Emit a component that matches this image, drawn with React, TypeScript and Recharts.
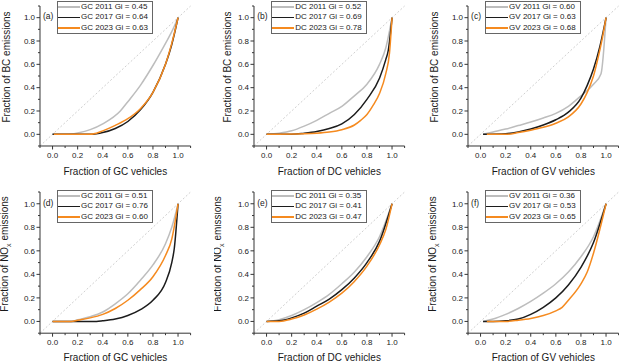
import React from "react";
import { LineChart, Line, XAxis, YAxis, ReferenceLine } from "recharts";

// tick positions shared by every panel (minor every 0.1, labels every 0.2)
const tickValues = [-0.1, 0, 0.1, 0.2, 0.3, 0.4, 0.5, 0.6, 0.7, 0.8, 0.9, 1, 1.1];
const years = ["2011", "2017", "2023"];

// [fraction of vehicles, fraction of emissions]
const gcBc2011 = [[0, 0], [0.1, 0], [0.15, 0.003], [0.2, 0.012], [0.3, 0.04], [0.4, 0.09], [0.54, 0.2], [0.6, 0.28], [0.7, 0.42], [0.8, 0.59], [0.9, 0.78], [0.95, 0.88], [1, 1]];
const gcBc2017 = [[0, 0], [0.3, 0], [0.35, 0.005], [0.4, 0.015], [0.5, 0.05], [0.6, 0.11], [0.7, 0.21], [0.8, 0.36], [0.9, 0.6], [0.95, 0.77], [1, 1]];
const gcBc2023 = [[0.01, 0], [0.28, 0], [0.35, 0.01], [0.4, 0.03], [0.5, 0.077], [0.6, 0.134], [0.7, 0.22], [0.8, 0.36], [0.9, 0.6], [0.95, 0.78], [1, 1]];

const dcBc2011 = [[0, 0], [0.1, 0.01], [0.2, 0.03], [0.3, 0.07], [0.4, 0.12], [0.5, 0.18], [0.6, 0.24], [0.7, 0.33], [0.8, 0.43], [0.9, 0.6], [0.95, 0.74], [1, 1]];
const dcBc2017 = [[0, 0], [0.2, 0], [0.3, 0.01], [0.4, 0.025], [0.5, 0.05], [0.6, 0.09], [0.7, 0.17], [0.8, 0.3], [0.9, 0.48], [0.95, 0.64], [0.97, 0.72], [1, 1]];
const dcBc2023 = [[0, 0], [0.3, 0.005], [0.4, 0.01], [0.5, 0.02], [0.6, 0.04], [0.7, 0.08], [0.75, 0.12], [0.8, 0.17], [0.85, 0.25], [0.9, 0.35], [0.95, 0.52], [0.98, 0.7], [1, 1]];

const gvBc2011 = [[0.02, 0], [0.1, 0.02], [0.2, 0.045], [0.3, 0.075], [0.4, 0.105], [0.5, 0.14], [0.6, 0.18], [0.7, 0.24], [0.8, 0.33], [0.9, 0.43], [0.96, 0.52], [1, 1]];
const gvBc2017 = [[0.02, 0], [0.2, 0.005], [0.3, 0.02], [0.4, 0.045], [0.5, 0.08], [0.6, 0.125], [0.7, 0.19], [0.8, 0.31], [0.85, 0.42], [0.9, 0.56], [0.95, 0.75], [1, 1]];
const gvBc2023 = [[0.05, 0], [0.2, 0], [0.3, 0.015], [0.4, 0.035], [0.5, 0.06], [0.6, 0.095], [0.7, 0.15], [0.8, 0.26], [0.85, 0.36], [0.9, 0.5], [0.95, 0.72], [0.97, 0.82], [1, 1]];

const gcNox2011 = [[0, 0], [0.15, 0], [0.2, 0.014], [0.3, 0.04], [0.4, 0.08], [0.5, 0.15], [0.6, 0.235], [0.7, 0.35], [0.8, 0.48], [0.9, 0.66], [0.95, 0.8], [1, 1]];
const gcNox2017 = [[0, 0], [0.35, 0], [0.4, 0.005], [0.5, 0.02], [0.6, 0.05], [0.7, 0.1], [0.8, 0.18], [0.9, 0.33], [0.95, 0.5], [0.97, 0.62], [1, 1]];
const gcNox2023 = [[0, 0], [0.15, 0], [0.2, 0.01], [0.3, 0.03], [0.4, 0.06], [0.5, 0.11], [0.6, 0.18], [0.7, 0.27], [0.8, 0.38], [0.9, 0.56], [0.95, 0.7], [1, 1]];

const dcNox2011 = [[0, 0], [0.1, 0.015], [0.2, 0.05], [0.3, 0.1], [0.4, 0.16], [0.5, 0.23], [0.6, 0.32], [0.7, 0.42], [0.8, 0.55], [0.9, 0.72], [1, 1]];
const dcNox2017 = [[0, 0], [0.1, 0.005], [0.2, 0.03], [0.3, 0.07], [0.4, 0.13], [0.5, 0.19], [0.6, 0.27], [0.7, 0.37], [0.8, 0.5], [0.9, 0.68], [1, 1]];
const dcNox2023 = [[0, 0], [0.1, 0], [0.2, 0.02], [0.3, 0.055], [0.4, 0.105], [0.5, 0.165], [0.6, 0.24], [0.7, 0.34], [0.8, 0.47], [0.9, 0.65], [0.95, 0.78], [1, 1]];

const gvNox2011 = [[0.02, 0], [0.1, 0.02], [0.2, 0.06], [0.3, 0.11], [0.4, 0.17], [0.5, 0.24], [0.6, 0.32], [0.7, 0.42], [0.8, 0.55], [0.9, 0.72], [1, 1]];
const gvNox2017 = [[0.02, 0], [0.1, 0], [0.2, 0.005], [0.3, 0.02], [0.4, 0.06], [0.5, 0.12], [0.6, 0.2], [0.7, 0.31], [0.8, 0.46], [0.9, 0.67], [1, 1]];
const gvNox2023 = [[0.05, 0], [0.2, 0], [0.3, 0.01], [0.4, 0.025], [0.5, 0.05], [0.6, 0.09], [0.65, 0.12], [0.7, 0.18], [0.8, 0.32], [0.85, 0.42], [0.9, 0.58], [0.95, 0.78], [1, 1]];

// Gini index per panel, same order as years
const giniGcBc = [0.45, 0.64, 0.63];
const giniDcBc = [0.52, 0.69, 0.78];
const giniGvBc = [0.6, 0.63, 0.68];
const giniGcNox = [0.51, 0.76, 0.6];
const giniDcNox = [0.35, 0.41, 0.47];
const giniGvNox = [0.36, 0.53, 0.65];

const COLORS = ["#bdbdbd", "#1c1c1c", "#f58a1f"];
const AXIS = "#333";
const TEXT = "#1a1a1a";
const FONT = '"Liberation Sans", Arial, sans-serif';

const colLeft = [40, 254.2, 468.1];
const rowTop = [5.6, 191.5];
const rowH = [140, 141.2];
const PLOT_W = 150.6;
const YW = 40;

const toPts = (arr: number[][]) => arr.map(([x, y]) => ({ x, y }));

const panels = [
  { tag: "(a)", veh: "GC", pol: "BC", gini: giniGcBc, series: [gcBc2011, gcBc2017, gcBc2023], row: 0, col: 0, titleDx: -33 },
  { tag: "(b)", veh: "DC", pol: "BC", gini: giniDcBc, series: [dcBc2011, dcBc2017, dcBc2023], row: 0, col: 1, titleDx: -26 },
  { tag: "(c)", veh: "GV", pol: "BC", gini: giniGvBc, series: [gvBc2011, gvBc2017, gvBc2023], row: 0, col: 2, titleDx: -33 },
  { tag: "(d)", veh: "GC", pol: "NOx", gini: giniGcNox, series: [gcNox2011, gcNox2017, gcNox2023], row: 1, col: 0, titleDx: -35 },
  { tag: "(e)", veh: "DC", pol: "NOx", gini: giniDcNox, series: [dcNox2011, dcNox2017, dcNox2023], row: 1, col: 1, titleDx: -36 },
  { tag: "(f)", veh: "GV", pol: "NOx", gini: giniGvNox, series: [gvNox2011, gvNox2017, gvNox2023], row: 1, col: 2, titleDx: -35 },
];

const isMajor = (v: number) => {
  const k = Math.round(v * 10);
  return k >= 0 && k <= 10 && k % 2 === 0;
};

function XTick(props: any) {
  const { x, y, payload } = props;
  const major = isMajor(payload.value);
  return (
    <g>
      <line x1={x} x2={x} y1={y} y2={y + (major ? 3.5 : 2)} stroke={AXIS} />
      {major && (
        <text x={x} y={y + 9} dy="0.35em" textAnchor="middle" fontSize={8} fill={TEXT} fontFamily={FONT}>
          {payload.value.toFixed(1)}
        </text>
      )}
    </g>
  );
}

function YTick(props: any) {
  const { x, y, payload } = props;
  const major = isMajor(payload.value);
  return (
    <g>
      <line x1={x - (major ? 3.5 : 2)} x2={x} y1={y} y2={y} stroke={AXIS} />
      {major && (
        <text x={x - 5} y={y} dy="0.35em" textAnchor="end" fontSize={8} fill={TEXT} fontFamily={FONT}>
          {payload.value.toFixed(1)}
        </text>
      )}
    </g>
  );
}

function Panel({ p }: { p: (typeof panels)[number] }) {
  const plotLeft = colLeft[p.col];
  const plotTop = rowTop[p.row];
  const plotH = rowH[p.row];
  const w = YW + PLOT_W + 4;
  const h = 6 + plotH + 34;
  const left = plotLeft - YW;
  const top = plotTop - 6;
  const legendTop = p.row === 0 ? 0.5 - top : 189.5 - top;

  const xTitle = (props: any) => {
    const vb = props.viewBox;
    return (
      <text x={vb.x + vb.width / 2} y={vb.y + (p.row === 0 ? 26 : 24)} dy="0.35em" textAnchor="middle" fontSize={10} fill={TEXT} fontFamily={FONT}>
        {`Fraction of ${p.veh} vehicles`}
      </text>
    );
  };
  const yTitle = (props: any) => {
    const vb = props.viewBox;
    const cx = vb.x + vb.width + p.titleDx;
    const cy = vb.y + (p.row === 0 ? 61 : 62);
    return (
      <text x={cx} y={cy} dy="0.35em" textAnchor="middle" fontSize={10} fill={TEXT} fontFamily={FONT} transform={`rotate(-90, ${cx}, ${cy})`}>
        {p.pol === "NOx" ? (
          <>
            Fraction of NO<tspan fontSize={7} dy={2.5}>x</tspan>
            <tspan dy={-2.5}> emissions</tspan>
          </>
        ) : (
          `Fraction of ${p.pol} emissions`
        )}
      </text>
    );
  };

  return (
    <div style={{ position: "absolute", left, top, width: w, height: h }}>
      <LineChart width={w} height={h} margin={{ top: 6, right: 4, left: 0, bottom: 4 }}>
        <XAxis
          dataKey="x"
          type="number"
          domain={[-0.1, 1.1]}
          ticks={tickValues}
          interval={0}
          tickSize={0}
          tickMargin={0}
          tickLine={false}
          tick={<XTick />}
          height={30}
          axisLine={{ stroke: AXIS }}
          label={{ content: xTitle }}
        />
        <YAxis
          type="number"
          domain={[-0.1, 1.1]}
          ticks={tickValues}
          interval={0}
          tickSize={0}
          tickMargin={0}
          tickLine={false}
          tick={<YTick />}
          width={YW}
          axisLine={{ stroke: AXIS }}
          label={{ content: yTitle }}
        />
        <ReferenceLine
          segment={[{ x: -0.1, y: -0.1 }, { x: 1.1, y: 1.1 }]}
          stroke="#cfcfcf"
          strokeDasharray="2 2"
          ifOverflow="visible"
        />
        {p.series.map((s, i) => (
          <Line
            key={years[i]}
            data={toPts(s)}
            dataKey="y"
            type="monotone"
            stroke={COLORS[i]}
            strokeWidth={1.5}
            dot={false}
            isAnimationActive={false}
          />
        ))}
      </LineChart>
      <div
        style={{
          position: "absolute",
          left: YW + 3,
          top: p.row === 0 ? 15.5 - top : 202.7 - top,
          transform: "translateY(-50%)",
          fontSize: 8.5,
          color: TEXT,
          fontFamily: FONT,
          lineHeight: 1,
        }}
      >
        {p.tag}
      </div>
      <div
        style={{
          position: "absolute",
          left: YW + 17,
          top: legendTop,
          width: 96,
          boxSizing: "border-box",
          border: "1px solid #666",
          background: "#fff",
          fontFamily: FONT,
          fontSize: 8,
          color: TEXT,
        }}
      >
        {years.map((yr, i) => (
          <div key={yr} style={{ display: "flex", alignItems: "center", height: 10.5, lineHeight: "10.5px" }}>
            <div style={{ width: 22, height: 1.5, background: COLORS[i], marginRight: 1, flex: "none" }} />
            <span style={{ whiteSpace: "nowrap" }}>{`${p.veh} ${yr} Gi = ${p.gini[i].toFixed(2)}`}</span>
          </div>
        ))}
      </div>
    </div>
  );
}

export default function App() {
  return (
    <div style={{ position: "fixed", left: 0, top: 0, width: 619, height: 363, background: "#fff", overflow: "hidden" }}>
      {panels.map((p) => (
        <Panel key={p.tag} p={p} />
      ))}
    </div>
  );
}
